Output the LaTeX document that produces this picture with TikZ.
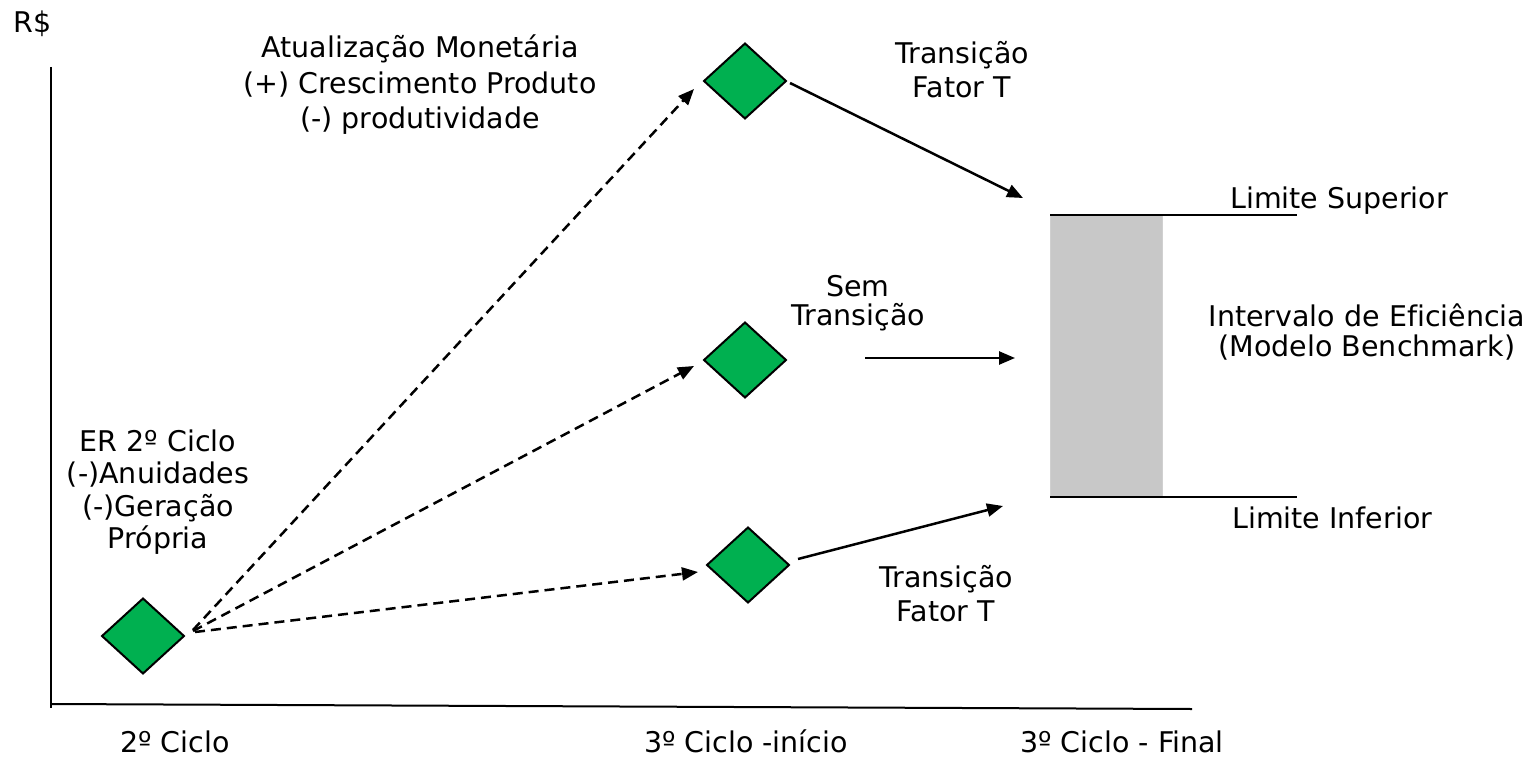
\documentclass[tikz,border=0pt]{standalone}
\usepackage{fontspec}
\setmainfont{DejaVu Sans}[Ligatures=CommonOff]
\usetikzlibrary{shapes.geometric,arrows.meta}
\definecolor{gemgreen}{RGB}{0,176,80}
\definecolor{bandgray}{RGB}{200,200,200}
\begin{document}
\begin{tikzpicture}[x=1pt,y=-1pt,
    txt/.style={font=\fontsize{28.5}{34}\selectfont, inner sep=0pt, align=center},
    gem/.style={diamond, draw=black, line width=2pt, fill=gemgreen, minimum width=82pt, minimum height=75pt, inner sep=0pt, outer sep=0pt},
    dasharrow/.style={line width=2.5pt, dash pattern=on 10pt off 6pt, -{Triangle[length=16pt,width=13pt]}},
    fullarrow/.style={line width=2.5pt, -{Triangle[length=16pt,width=13pt]}}]
            \useasboundingbox (0,0) rectangle (1536,757);
            % axes
            \coordinate (ytop) at (51,67);
            \coordinate (orig) at (51,708);
            \coordinate (xstart) at (51,704);
            \coordinate (xend) at (1192,709);
            \draw[line width=2pt] (ytop) -- (orig);
            \draw[line width=2pt] (xstart) -- (xend);
            \node[txt, anchor=base west] (rs) at (13,33) {R\$};
            % efficiency band
            \node[fill=bandgray, draw=bandgray!85, line width=1pt, minimum width=112pt, minimum height=282pt, inner sep=0pt, outer sep=0pt] (band) at (1106,356) {};
            \coordinate (supend) at (1297,215);
            \coordinate (infend) at (1297,497);
            \draw[line width=2.5pt] (band.north west) -- (supend);
            \draw[line width=2.5pt] (band.south west) -- (infend);
            % diamonds
            \node[gem] (d0) at (143,636) {};
            \node[gem] (d1) at (745,81) {};
            \node[gem] (d2) at (745,360) {};
            \node[gem] (d3) at (748,565) {};
            % dashed arrows
            \draw[dasharrow] ([shift={(9,-6)}]d0.east) -- ([shift={(-10,8)}]d1.west);
            \draw[dasharrow] ([shift={(9,-5)}]d0.east) -- ([shift={(-10,6)}]d2.west);
            \draw[dasharrow] ([shift={(11,-4)}]d0.east) -- ([shift={(-9,7)}]d3.west);
            % solid arrows
            \draw[fullarrow] ([shift={(4,2)}]d1.east) -- ([shift={(-27,-17)}]band.north west);
            \draw[fullarrow] ([shift={(79,-2)}]d2.east) -- ([shift={(-35,2)}]band.west);
            \draw[fullarrow] ([shift={(9,-6)}]d3.east) -- ([shift={(-47,9)}]band.south west);
            % labels
            \node[txt, font=\fontsize{28.5}{35.5}\selectfont] (atual) at (420,85) {Atualização Monetária\\(+) Crescimento Produto\\(-) produtividade};
            \node[txt, font=\fontsize{28.5}{32.5}\selectfont] (er) at (158,492) {ER 2º Ciclo\\(-)Anuidades\\(-)Geração\\Própria};
            \node[txt, font=\fontsize{28.5}{29}\selectfont] (sem) at (858,303) {Sem\\Transição};
            \node[txt] (transup) at (962,70) {Transição\\Fator T};
            \node[txt] (translow) at (946,594) {Transição\\Fator T};
            \node[txt, font=\fontsize{28.5}{30}\selectfont] (interv) at (1367,332) {Intervalo de Eficiência\\(Modelo Benchmark)};
            \node[txt, anchor=base west] (limsup) at (1230,208) {Limite Superior};
            \node[txt, anchor=base west] (liminf) at (1232,528) {Limite Inferior};
            \node[txt, anchor=base] (c2) at (175,752) {2º Ciclo};
            \node[txt, anchor=base] (c3i) at (746,752) {3º Ciclo -início};
            \node[txt, anchor=base] (c3f) at (1122,752) {3º Ciclo - Final};
\end{tikzpicture}
\end{document}
